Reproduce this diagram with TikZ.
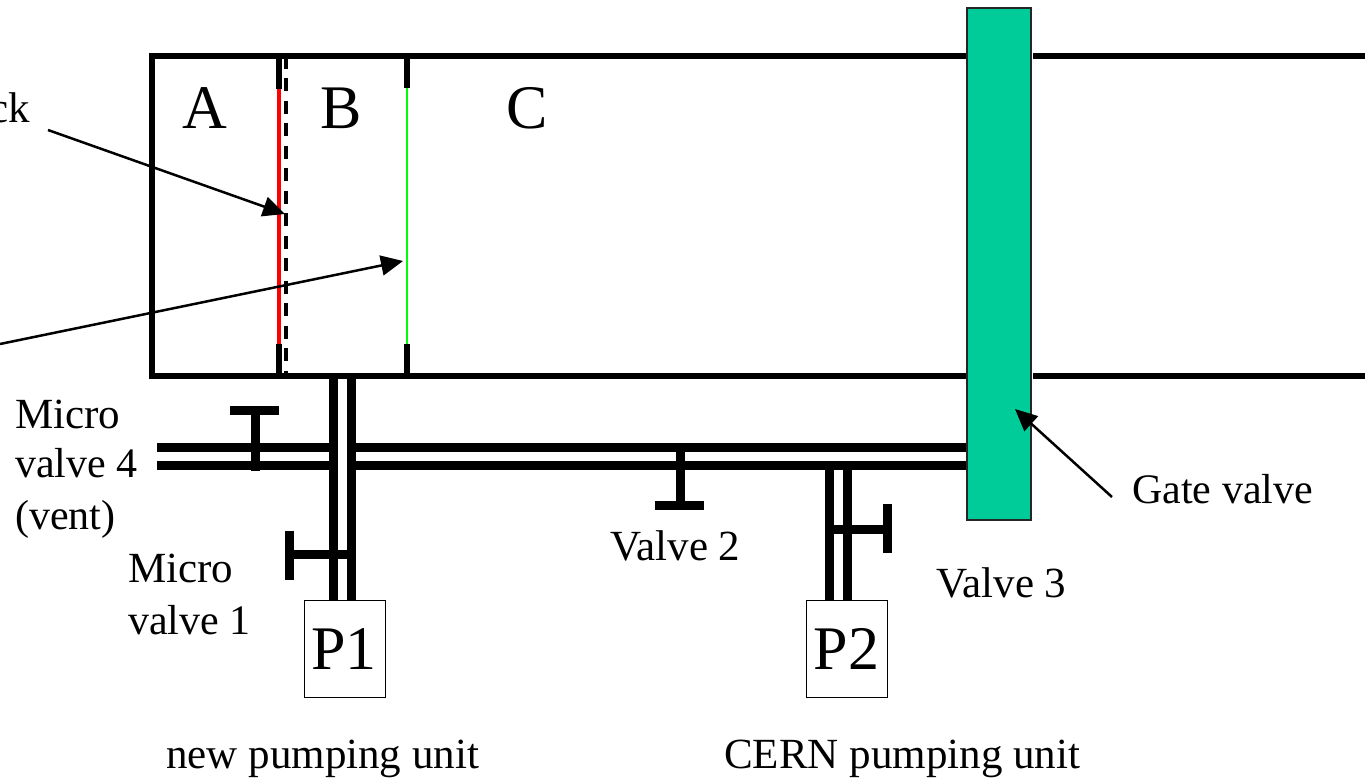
\documentclass[tikz,border=0pt]{standalone}
\usepackage{fontspec}
\setmainfont{Liberation Serif}
\usetikzlibrary{arrows.meta}
\definecolor{gatecol}{HTML}{00CC99}
\tikzset{
  wall/.style={line width=6pt,black},
  pipe/.style={line width=9pt,black},
  lead/.style={line width=2.5pt,-{Triangle[length=22pt,width=20pt]}},
  lab/.style={font=\fontsize{43}{43}\selectfont,anchor=base west,inner sep=0pt},
  labn/.style={font=\fontsize{42}{42}\selectfont,anchor=base west,inner sep=0pt},
  big/.style={font=\fontsize{62}{62}\selectfont,anchor=base west,inner sep=0pt},
  pump/.style={draw=black,line width=1.3pt,fill=white,minimum width=81pt,minimum height=97pt,inner sep=0pt,font=\fontsize{62}{62}\selectfont},
}
\begin{document}
\begin{tikzpicture}[x=1pt,y=-1pt]
\useasboundingbox (0,0) rectangle (1365,779);
\begin{scope}
\clip (0,0) rectangle (1365,779);
% vessel
\draw[wall,line cap=rect] (967,56) -- (152,56) -- (152,376) -- (967,376);
\draw[wall] (1033,56) -- (1365,56);
\draw[wall] (1033,376) -- (1365,376);
% windows
\draw[line width=4pt,red] (279,88) -- (279,344);
\draw[wall] (279,56) -- (279,89);
\draw[wall] (279,344) -- (279,376);
\draw[line width=4pt,dash pattern=on 13pt off 9.5pt] (286,55.5) -- (286,374);
\draw[line width=2pt,green] (407,88) -- (407,344);
\draw[wall] (407,56) -- (407,88);
\draw[wall] (407,344) -- (407,376);
% pipes
\draw[pipe] (157,447.5) -- (336.5,447.5);
\draw[pipe] (157,465.5) -- (336.5,465.5);
\draw[pipe] (352.5,447.5) -- (967,447.5);
\draw[pipe] (352.5,465.5) -- (967,465.5);
\draw[pipe] (333.7,376) -- (333.7,600);
\draw[pipe] (351.7,376) -- (351.7,600);
\draw[pipe] (829.7,466) -- (829.7,600);
\draw[pipe] (847.7,466) -- (847.7,600);
% valves
\draw[pipe] (255.5,410) -- (255.5,471);
\draw[pipe] (230,410.5) -- (279,410.5);
\draw[pipe] (294,554.5) -- (350,554.5);
\draw[pipe] (289.5,531) -- (289.5,580);
\draw[pipe] (680,450) -- (680,505);
\draw[pipe] (655,505) -- (704,505);
\draw[pipe] (834,529) -- (887,529);
\draw[pipe] (887,504) -- (887,553);
% gate valve
\node[draw=black!85,line width=1.2pt,fill=gatecol,minimum width=64pt,minimum height=512pt,inner sep=0pt] (gate) at (999,264) {};
% pumps
\node[pump] (p1) at (345.3,648.7) {\hspace{-3pt}\raisebox{-2pt}{P1}};
\node[pump] (p2) at (847,648.7) {\hspace{-1pt}\raisebox{-2pt}{P2}};
% labels
\node[big] (la) at (182,128.5) {A};
\node[big] (lb) at (320,128.5) {B};
\node[big] (lc) at (506,128.5) {C};
\node[lab,anchor=base east] (lck) at (30.5,122) {ck};
\node[lab] (m4a) at (15,428) {Micro};
\node[labn] (m4b) at (15,477) {valve 4};
\node[labn] (m4c) at (15,529) {(vent)};
\node[lab] (m1a) at (128,582) {Micro};
\node[labn] (m1b) at (128,634) {valve 1};
\node[lab] (v2) at (610,560) {Valve 2};
\node[lab] (v3) at (936,597) {Valve 3};
\node[labn] (gv) at (1132,503) {Gate valve};
\node[lab] (np) at (166,768.5) {new pumping unit};
\node[lab] (cp) at (724,768.5) {CERN pumping unit};
% leaders
\coordinate (a1s) at (48,130);
\coordinate (a1e) at (285,214);
\coordinate (a2s) at (0,344);
\coordinate (a2e) at (403,261);
\coordinate (a3s) at (1112,497);
\coordinate (a3e) at (1015,409);
\draw[lead] (a1s) -- (a1e);
\draw[lead] (a2s) -- (a2e);
\draw[lead] (a3s) -- (a3e);
\end{scope}
\end{tikzpicture}
\end{document}
